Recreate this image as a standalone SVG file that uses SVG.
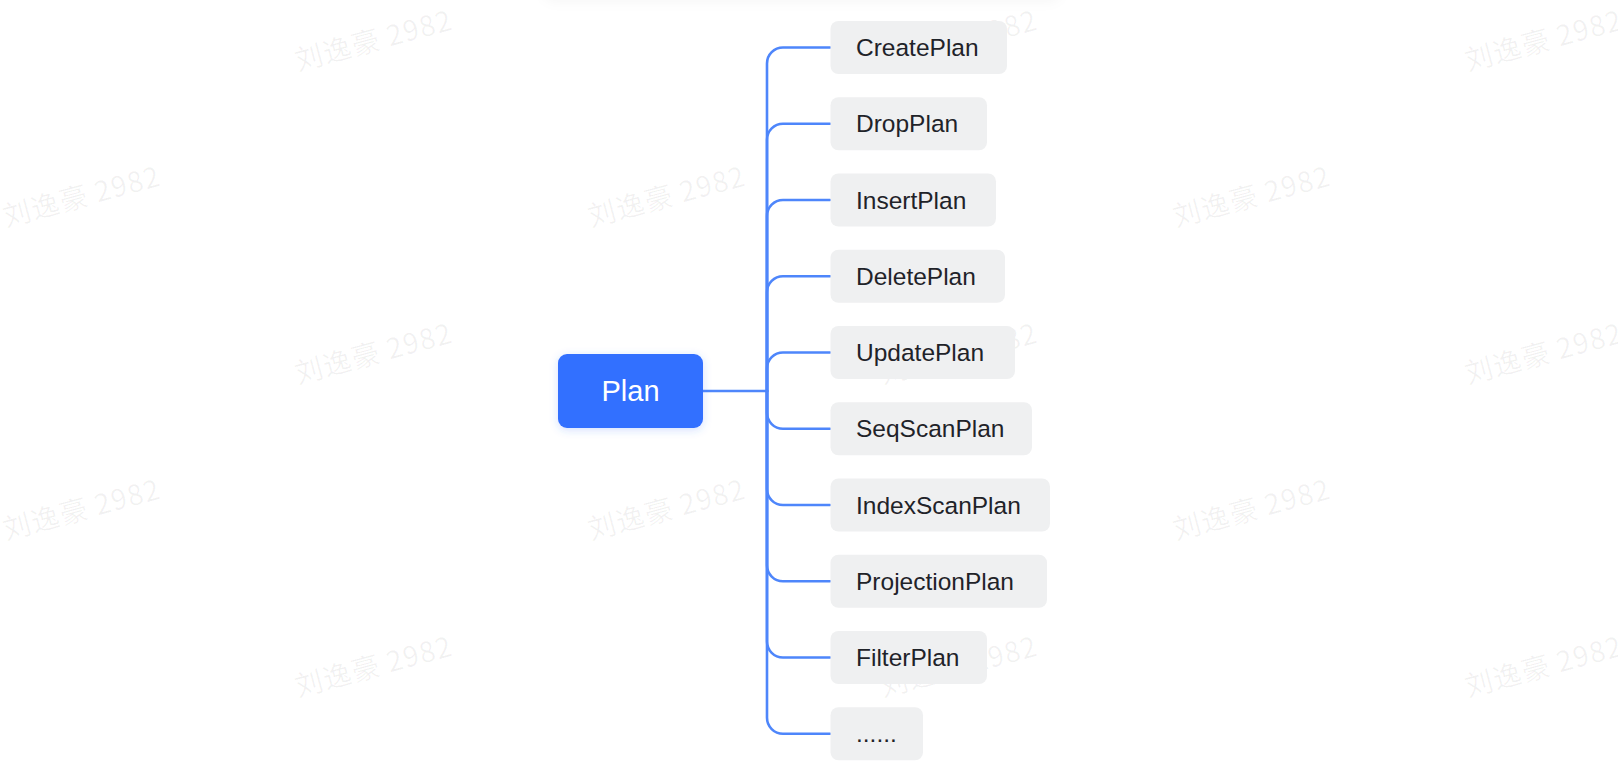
<svg xmlns="http://www.w3.org/2000/svg" width="1618" height="780" viewBox="0 0 1618 780">
  <style>
    .wm { font-family: "Noto Sans CJK SC", "Liberation Sans", sans-serif; font-size: 28px; letter-spacing: 1.2px; fill: #1f2329; fill-opacity: 0.06; }
    .box { fill: #eff0f1; }
    .lbl { font-family: "Liberation Sans", Arial, sans-serif; font-size: 24.5px; fill: #1f2329; }
    .root { fill: #3370ff; }
    .rootlbl { font-family: "Liberation Sans", Arial, sans-serif; font-size: 29px; fill: #ffffff; text-anchor: middle; }
    .conn { fill: none; stroke: #4e86fb; stroke-width: 2.6; stroke-linecap: round; stroke-linejoin: round; }
  </style>
  <defs>
    <filter id="rootShadow" x="-20%" y="-30%" width="140%" height="160%">
      <feDropShadow dx="0" dy="2" stdDeviation="4" flood-color="#3370ff" flood-opacity="0.22"/>
    </filter>
    <filter id="topShadow" x="-10%" y="-100%" width="120%" height="300%">
      <feDropShadow dx="0" dy="2" stdDeviation="6" flood-color="#1f2329" flood-opacity="0.035"/>
    </filter>
  </defs>

  <rect x="0" y="0" width="1618" height="780" fill="#ffffff"/>

  <!-- faint toolbar shadow at the top -->
  <rect x="542" y="-40" width="520" height="40" rx="14" fill="#ffffff" filter="url(#topShadow)"/>

  <!-- watermarks -->
  <g id="watermarks">
    <text class="wm" x="298" y="71" transform="rotate(-15 298 71)">刘逸豪 2982</text>
    <text class="wm" x="883" y="71" transform="rotate(-15 883 71)">刘逸豪 2982</text>
    <text class="wm" x="1468" y="71" transform="rotate(-15 1468 71)">刘逸豪 2982</text>
    <text class="wm" x="6" y="227" transform="rotate(-15 6 227)">刘逸豪 2982</text>
    <text class="wm" x="591" y="227" transform="rotate(-15 591 227)">刘逸豪 2982</text>
    <text class="wm" x="1176" y="227" transform="rotate(-15 1176 227)">刘逸豪 2982</text>
    <text class="wm" x="298" y="384" transform="rotate(-15 298 384)">刘逸豪 2982</text>
    <text class="wm" x="883" y="384" transform="rotate(-15 883 384)">刘逸豪 2982</text>
    <text class="wm" x="1468" y="384" transform="rotate(-15 1468 384)">刘逸豪 2982</text>
    <text class="wm" x="6" y="540" transform="rotate(-15 6 540)">刘逸豪 2982</text>
    <text class="wm" x="591" y="540" transform="rotate(-15 591 540)">刘逸豪 2982</text>
    <text class="wm" x="1176" y="540" transform="rotate(-15 1176 540)">刘逸豪 2982</text>
    <text class="wm" x="298" y="697" transform="rotate(-15 298 697)">刘逸豪 2982</text>
    <text class="wm" x="883" y="697" transform="rotate(-15 883 697)">刘逸豪 2982</text>
    <text class="wm" x="1468" y="697" transform="rotate(-15 1468 697)">刘逸豪 2982</text>
  </g>

  <!-- connectors -->
  <g id="connectors">
    <path class="conn" d="M703 391 H767"/>
    <path class="conn" d="M767 391 V63.5 A16 16 0 0 1 783 47.5 H830"/>
    <path class="conn" d="M767 391 V139.75 A16 16 0 0 1 783 123.75 H830"/>
    <path class="conn" d="M767 391 V216 A16 16 0 0 1 783 200 H830"/>
    <path class="conn" d="M767 391 V292.25 A16 16 0 0 1 783 276.25 H830"/>
    <path class="conn" d="M767 391 V368.5 A16 16 0 0 1 783 352.5 H830"/>
    <path class="conn" d="M767 391 V412.75 A16 16 0 0 0 783 428.75 H830"/>
    <path class="conn" d="M767 391 V489 A16 16 0 0 0 783 505 H830"/>
    <path class="conn" d="M767 391 V565.25 A16 16 0 0 0 783 581.25 H830"/>
    <path class="conn" d="M767 391 V641.5 A16 16 0 0 0 783 657.5 H830"/>
    <path class="conn" d="M767 391 V717.75 A16 16 0 0 0 783 733.75 H830"/>
  </g>

  <!-- root node -->
  <g id="node-plan">
    <rect class="root" x="558" y="354" width="145" height="74" rx="9" filter="url(#rootShadow)"/>
    <text class="rootlbl" x="630.5" y="401">Plan</text>
  </g>

  <!-- child nodes -->
  <g id="node-createplan">
    <rect class="box" x="830.5" y="21" width="176.5" height="53" rx="8"/>
    <text class="lbl" x="856" y="56">CreatePlan</text>
  </g>
  <g id="node-dropplan">
    <rect class="box" x="830.5" y="97.25" width="156.5" height="53" rx="8"/>
    <text class="lbl" x="856" y="132.25">DropPlan</text>
  </g>
  <g id="node-insertplan">
    <rect class="box" x="830.5" y="173.5" width="165.5" height="53" rx="8"/>
    <text class="lbl" x="856" y="208.5">InsertPlan</text>
  </g>
  <g id="node-deleteplan">
    <rect class="box" x="830.5" y="249.75" width="174.5" height="53" rx="8"/>
    <text class="lbl" x="856" y="284.75">DeletePlan</text>
  </g>
  <g id="node-updateplan">
    <rect class="box" x="830.5" y="326" width="184.5" height="53" rx="8"/>
    <text class="lbl" x="856" y="361">UpdatePlan</text>
  </g>
  <g id="node-seqscanplan">
    <rect class="box" x="830.5" y="402.25" width="201.5" height="53" rx="8"/>
    <text class="lbl" x="856" y="437.25">SeqScanPlan</text>
  </g>
  <g id="node-indexscanplan">
    <rect class="box" x="830.5" y="478.5" width="219.5" height="53" rx="8"/>
    <text class="lbl" x="856" y="513.5">IndexScanPlan</text>
  </g>
  <g id="node-projectionplan">
    <rect class="box" x="830.5" y="554.75" width="216.5" height="53" rx="8"/>
    <text class="lbl" x="856" y="589.75">ProjectionPlan</text>
  </g>
  <g id="node-filterplan">
    <rect class="box" x="830.5" y="631" width="156.5" height="53" rx="8"/>
    <text class="lbl" x="856" y="666">FilterPlan</text>
  </g>
  <g id="node-more">
    <rect class="box" x="830.5" y="707.25" width="92.5" height="53" rx="8"/>
    <text class="lbl" x="856" y="742.25">......</text>
  </g>
</svg>
